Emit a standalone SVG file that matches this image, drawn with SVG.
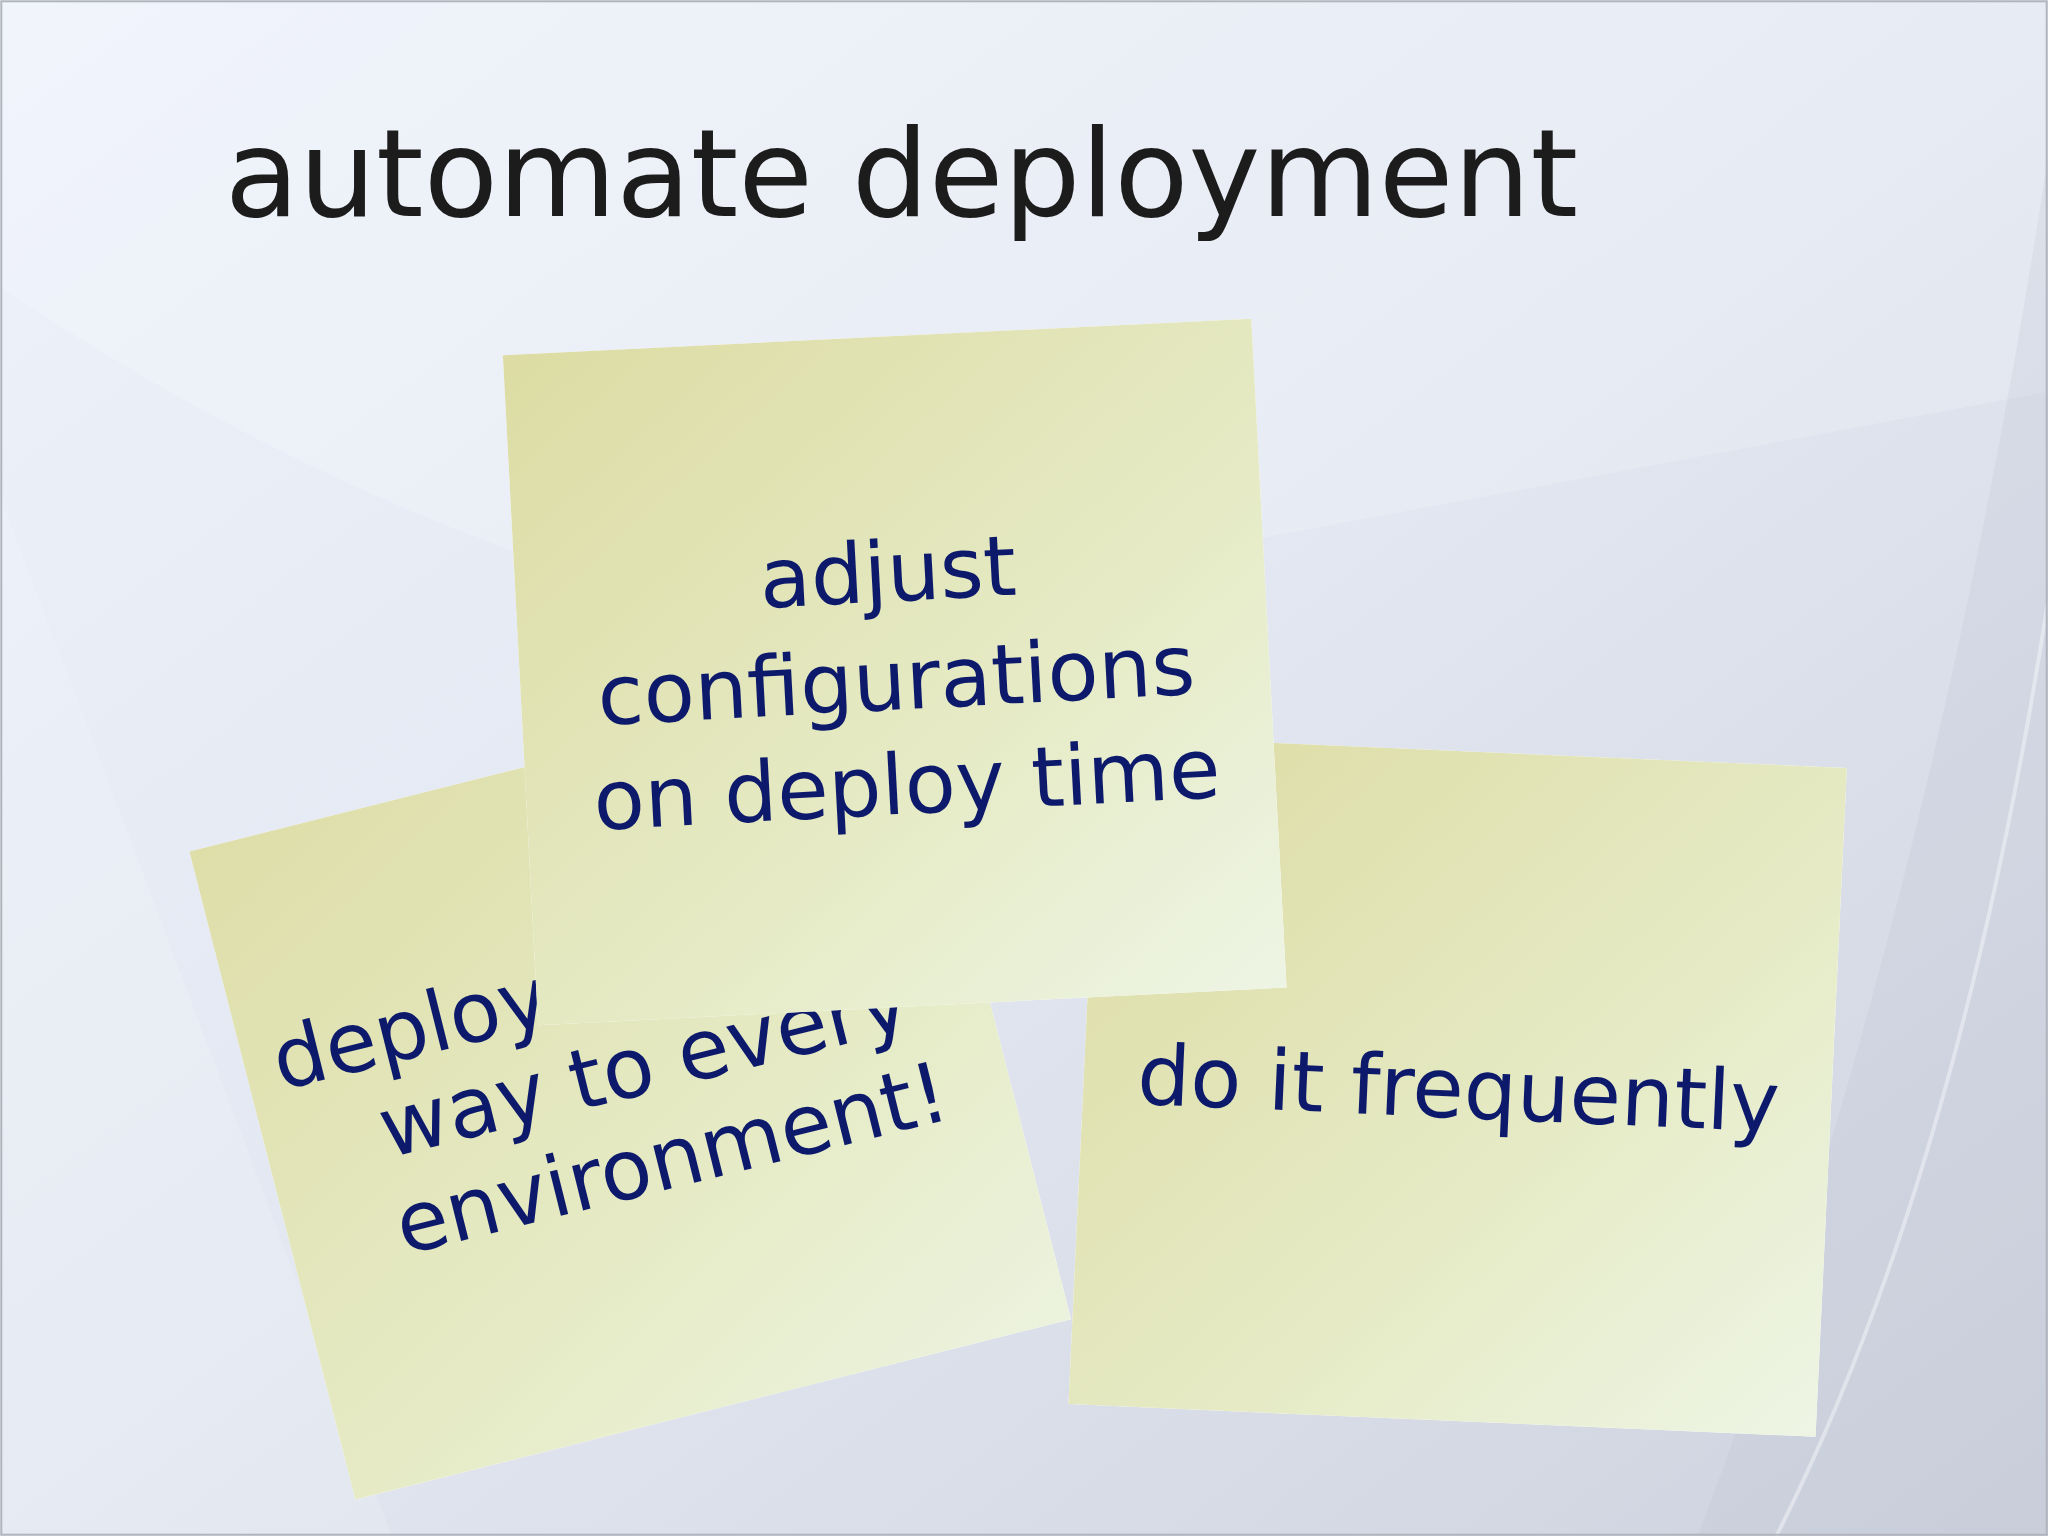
<svg xmlns="http://www.w3.org/2000/svg" width="2048" height="1536" viewBox="0 0 2048 1536">
<defs>
<linearGradient id="bg" x1="0" y1="0" x2="1" y2="1"><stop offset="0" stop-color="#eef2fb"/><stop offset="0.5" stop-color="#e2e7f1"/><stop offset="1" stop-color="#cdd2de"/></linearGradient>
<linearGradient id="note" x1="0" y1="0" x2="1" y2="1"><stop offset="0" stop-color="#dcdba2"/><stop offset="0.6" stop-color="#e6ebc6"/><stop offset="1" stop-color="#eef5e6"/></linearGradient>
<filter id="glow" x="-10%" y="-10%" width="120%" height="120%"><feGaussianBlur in="SourceAlpha" stdDeviation="8"/><feFlood flood-color="#ffffff"/><feComposite operator="in" in2="SourceAlpha"/><feMerge><feMergeNode/><feMergeNode in="SourceGraphic"/></feMerge></filter>
<style>
.t{font-family:"DejaVu Sans","Noto Sans",sans-serif;fill:#0d1a6b;font-size:64px}
.note{fill:url(#note);filter:url(#glow)}
</style>
</defs>
<rect width="2048" height="1536" fill="url(#bg)"/>
<g transform="scale(1.30612)">
<path d="M0 220 Q300 420 600 480 L1568 300 L1568 0 L0 0Z" fill="#ffffff" opacity="0.18"/>
<path d="M0 380 Q160 800 300 1176 L0 1176Z" fill="#ffffff" opacity="0.15"/>
<path d="M1568 120 Q1480 700 1300 1176 L1568 1176Z" fill="#b8bfcf" opacity="0.2"/>
<path d="M1568 460 Q1500 900 1360 1176" fill="none" stroke="#ffffff" stroke-width="3" opacity="0.4"/>
<rect x="1" y="1" width="1566" height="1174" fill="none" stroke="#b0b4bc" stroke-width="1.5"/>
<text x="172" y="165" style="font-family:'DejaVu Sans','Noto Sans',sans-serif;font-size:93px;fill:#1c1c1c">automate deployment</text>
<g id="note-left">
<polygon class="note" points="145,652 693,514 820,1010 272,1148"/>
<g transform="rotate(-14 215 835)">
<text class="t" x="215" y="835">deploy the same</text>
<text class="t" x="282" y="905">way to every</text>
<text class="t" x="276" y="980">environment!</text>
</g>
</g>
<g id="note-right">
<polygon class="note" points="842,563 1414,588 1390,1100 818,1075"/>
<text class="t" x="870" y="845" transform="rotate(2.5 870 845)">do it frequently</text>
</g>
<g id="note-middle">
<polygon class="note" points="385,272 958,244 985,756 412,785"/>
<g transform="rotate(-3 690 520)" text-anchor="middle">
<text class="t" x="684" y="460">adjust</text>
<text class="t" x="686" y="543">configurations</text>
<text class="t" x="690" y="623">on deploy time</text>
</g>
</g>
<g id="connectors"/>
</g>
</svg>
